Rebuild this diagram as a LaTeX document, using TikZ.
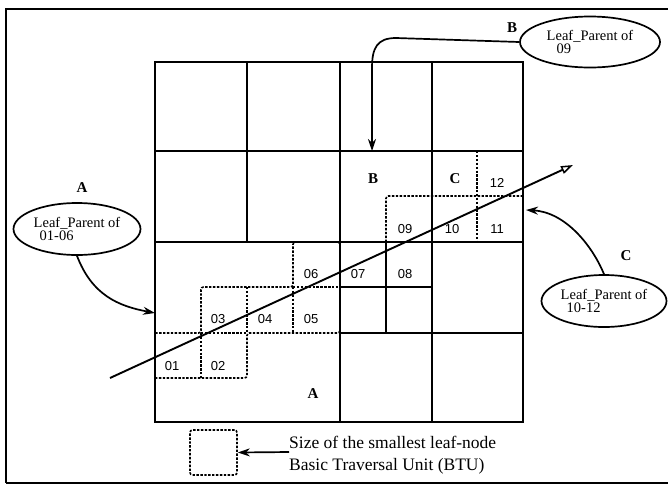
\documentclass[tikz,border=0pt]{standalone}
\usepackage{fontspec}
\setmainfont{Liberation Serif}
\newfontfamily\numfont{Liberation Sans}
\usetikzlibrary{shapes.geometric,arrows.meta}
\begin{document}
\begin{tikzpicture}[x=1pt,y=-1pt,
  gridline/.style={line width=1.9pt},
  btu/.style={line width=1.6pt, dash pattern=on 2.4pt off 1.5pt, rounded corners=2.5pt},
  num/.style={font=\numfont\fontsize{13}{13}\selectfont, inner sep=0pt},
  region/.style={font=\bfseries\fontsize{15}{15}\selectfont, inner sep=0pt},
  leaf/.style={ellipse, draw, line width=1.7pt, inner sep=0pt, align=left, font=\fontsize{14.5}{13}\selectfont},
  conn/.style={line width=1.7pt, -{Stealth[length=12pt,width=8pt]}},
]
\useasboundingbox (0,0) rectangle (668,485);
% frame
\draw[line width=2.4pt] (668,9) -- (6,9) -- (6,483);
\draw[line width=1.5pt] (6,483) -- (668,483);

% dashed BTUs (drawn first, solid lines on top)
\draw[btu] (155,378) -- (247,378) -- (247,333) -- (340,333) -- (340,242) -- (293,242) -- (293,287) -- (201,287) -- (201,333) -- (155,333);
\draw[btu] (201,333) -- (201,378);
\draw[btu] (201,333) -- (247,333);
\draw[btu] (247,287) -- (247,333);
\draw[btu] (293,287) -- (293,333);
\draw[btu] (293,287) -- (340,287);
\draw[btu] (386,242) -- (386,196) -- (523,196);
\draw[btu] (477,151) -- (477,242);

% solid grid
\draw[gridline] (155,62) rectangle (523,422);
\draw[gridline] (247,62) -- (247,242);
\draw[gridline] (340,62) -- (340,422);
\draw[gridline] (432,62) -- (432,422);
\draw[gridline] (155,151) -- (523,151);
\draw[gridline] (155,242) -- (523,242);
\draw[gridline] (340,333) -- (523,333);
\draw[gridline] (386,242) -- (386,333);
\draw[gridline] (340,287) -- (432,287);

% numbers
\node[num] (n01) at (172,366) {01};
\node[num] (n02) at (218,366) {02};
\node[num] (n03) at (218,319) {03};
\node[num] (n04) at (265,319) {04};
\node[num] (n05) at (311,319) {05};
\node[num] (n06) at (311,274) {06};
\node[num] (n07) at (358,274) {07};
\node[num] (n08) at (405,274) {08};
\node[num] (n09) at (405,229) {09};
\node[num] (n10) at (452,229) {10};
\node[num] (n11) at (497,229) {11};
\node[num] (n12) at (497,183) {12};
\node[region] (rA) at (313,394) {A};
\node[region] (rB) at (373,179) {B};
\node[region] (rC) at (455,179) {C};

% traversal line
\coordinate (tstart) at (110,378);
\coordinate (tend) at (573,165);
\draw[line width=1.9pt, -{Triangle[open,length=12pt,width=8pt,line width=1.5pt]}] (tstart) -- (tend);

% leaf parent ellipses
\node[leaf, minimum width=127pt, minimum height=52pt] (ellA) at (77,229) {Leaf\_Parent of\\\hspace{6pt}01-06};
\node[leaf, minimum width=140pt, minimum height=51pt] (ellB) at (590,42) {Leaf\_Parent of\\\hspace{10pt}09};
\node[leaf, minimum width=125pt, minimum height=52pt] (ellC) at (604,301) {Leaf\_Parent of\\\hspace{6pt}10-12};
\node[region] (lA) at (82,188) {A};
\node[region] (lB) at (512,28) {B};
\node[region] (lC) at (626,256) {C};

\coordinate (tipA) at (155,313);
\coordinate (tipB) at (372,151);
\coordinate (tipC) at (526,210);
\draw[conn] (ellA.south) .. controls (92,295) and (118,306) .. (tipA);
\draw[conn] (ellB.west) -- (396,38) .. controls (377,38) and (372,48) .. (372,68) -- (tipB);
\draw[conn] (ellC.north) .. controls (592,245) and (565,212) .. (tipC);

% legend
\node[draw, btu, minimum width=47pt, minimum height=45pt, inner sep=0pt] (leg) at (213.5,452.5) {};
\node[anchor=west, align=left, inner sep=0pt, font=\fontsize{17.5}{22}\selectfont] (legtext) at (289,455) {Size of the smallest leaf-node\\Basic Traversal Unit (BTU)};
\draw[conn] (legtext.west |- 0,452) -- (leg.east);
\end{tikzpicture}
\end{document}
